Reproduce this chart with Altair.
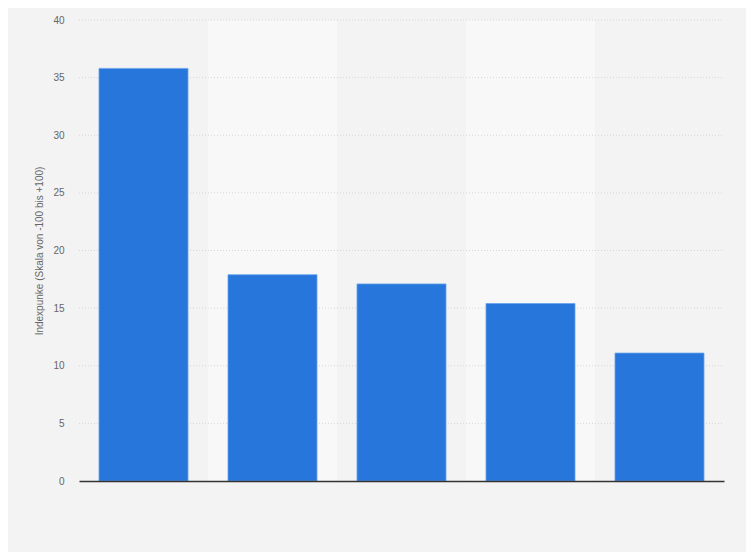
import altair as alt
import pandas as pd

categories = ["Kategorie 1", "Kategorie 2", "Kategorie 3", "Kategorie 4", "Kategorie 5"]
values = [35.8, 17.9, 17.1, 15.4, 11.1]
band_categories = ["Kategorie 2", "Kategorie 4"]
y_ticks = [0, 5, 10, 15, 20, 25, 30, 35, 40]

df = pd.DataFrame({"cat": categories, "val": values})
bands = pd.DataFrame({"cat": band_categories})
grid = pd.DataFrame({"t": y_ticks[1:]})

W, H = 645, 461
yscale = alt.Scale(domain=[0, 40], nice=False)
yaxis = alt.Axis(values=y_ticks, title="Indexpunke (Skala von -100 bis +100)",
                 domain=False, ticks=False, labelPadding=15, grid=False,
                 labelColor="#666666", labelFontSize=10, labelFont="Liberation Sans",
                 titleColor="#666666", titleFontSize=10, titleFontWeight="normal",
                 titleFont="Liberation Sans", titlePadding=8)

band_layer = alt.Chart(bands).mark_rect(color="#f8f8f8").encode(
    x=alt.X("cat:N", sort=categories,
            scale=alt.Scale(domain=categories, paddingInner=0, paddingOuter=0),
            axis=None),
    y=alt.value(0),
    y2=alt.value(H),
)

grid_layer = alt.Chart(grid).mark_rule(color="#d6d6d6", strokeDash=[1, 2], strokeWidth=1).encode(
    y=alt.Y("t:Q", scale=yscale, axis=yaxis),
    x=alt.value(0),
    x2=alt.value(W),
)

bars = alt.Chart(df).mark_bar(color="#2776db", stroke="#6aa3ec", strokeWidth=0.8).encode(
    x=alt.X("cat:N", sort=categories,
            scale=alt.Scale(domain=categories, paddingInner=0.31, paddingOuter=0.155),
            axis=alt.Axis(labels=False, ticks=False, title=None, domainColor="#333333",
                          domainWidth=1.5, grid=False, zindex=2)),
    y=alt.Y("val:Q", scale=yscale, axis=yaxis),
)

chart = alt.layer(band_layer, grid_layer, bars).resolve_scale(x="independent").properties(
    width=W, height=H,
    autosize=alt.AutoSizeParams(type="none"),
    padding={"left": 71, "top": 12, "right": 22, "bottom": 71},
    background="#f3f3f3",
).configure_view(stroke=None, fill="#f3f3f3")

chart.save("out.html", embed_options={"renderer": "svg", "actions": False})
